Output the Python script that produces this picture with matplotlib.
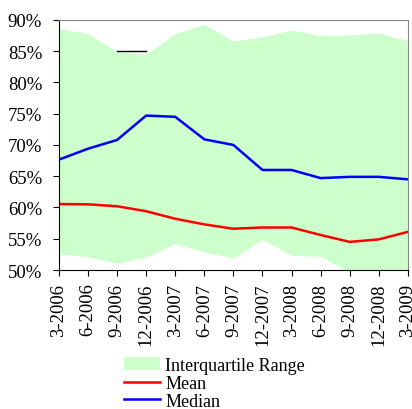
import matplotlib
matplotlib.use("Agg")
import matplotlib.pyplot as plt
import numpy as np
from matplotlib.ticker import FuncFormatter

plt.rcParams['font.family'] = ['Liberation Serif', 'DejaVu Serif']

quarters = ['3-2006', '6-2006', '9-2006', '12-2006', '3-2007', '6-2007', '9-2007',
            '12-2007', '3-2008', '6-2008', '9-2008', '12-2008', '3-2009']
q75 = [88.6, 87.8, 84.9, 84.5, 87.8, 89.3, 86.6, 87.3, 88.4, 87.5, 87.6, 87.9, 86.7]
q25 = [52.6, 52.1, 51.1, 52.1, 54.2, 52.9, 51.9, 54.9, 52.3, 52.2, 49.6, 49.5, 49.5]
mean = [60.55, 60.5, 60.2, 59.4, 58.2, 57.3, 56.6, 56.8, 56.8, 55.6, 54.5, 54.9, 56.1]
median = [67.65, 69.4, 70.8, 74.7, 74.5, 70.9, 70.0, 66.0, 66.0, 64.7, 64.9, 64.9, 64.5]

x = np.arange(len(quarters))

fig = plt.figure(figsize=(4.12, 4.10), dpi=100)
ax = fig.add_axes([0.143, 0.339, 0.847, 0.610])

ax.fill_between(x, q25, q75, color='#ccffcc', linewidth=0, label='Interquartile Range')
ax.plot([2, 3], [85, 85], color='black', linewidth=1)  # stray line in the original
ax.plot(x, mean, color='#ff0000', linewidth=1.8, label='Mean')
ax.plot(x, median, color='#0000ff', linewidth=1.8, label='Median')

ax.set_xlim(0, len(quarters) - 1)
ax.set_ylim(50, 90)
ax.set_yticks(np.arange(50, 91, 5))
ax.yaxis.set_major_formatter(FuncFormatter(lambda v, p: f'{v:.0f}%'))
ax.set_xticks(x)
ax.set_xticklabels(quarters, rotation=90)
ax.tick_params(labelsize=13.5, direction='out', length=4, width=0.8)
ax.tick_params(axis='y', pad=8)
ax.tick_params(axis='x', pad=5)

for s in ['top', 'right']:
    ax.spines[s].set_color('#888888')
for s in ['left', 'bottom']:
    ax.spines[s].set_color('black')

fig.legend(loc='upper center', bbox_to_anchor=(0.52, 0.149), frameon=False,
           fontsize=13, labelspacing=0.05, handlelength=2.0, handletextpad=0.3,
           borderpad=0.0, handleheight=0.7)

fig.savefig('out.png', dpi=100)
